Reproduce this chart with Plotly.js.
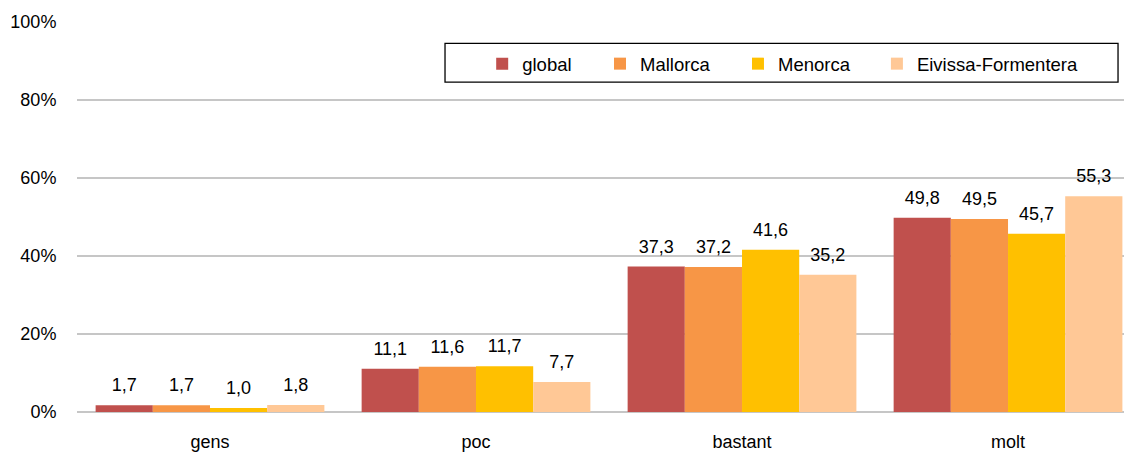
<!DOCTYPE html>
<html>
<head>
<meta charset="utf-8">
<script src="https://cdn.plot.ly/plotly-3.0.1.min.js"></script>
<style>html,body{margin:0;padding:0;overflow:hidden;background:#fff}</style>
</head>
<body>
<div id="chart" style="width:1124px;height:455px"></div>
<script>
const categories = ["gens", "poc", "bastant", "molt"];
const global = [1.7, 11.1, 37.3, 49.8];
const mallorca = [1.7, 11.6, 37.2, 49.5];
const menorca = [1.0, 11.7, 41.6, 45.7];
const eivissa = [1.8, 7.7, 35.2, 55.3];
const seriesNames = ["global", "Mallorca", "Menorca", "Eivissa-Formentera"];
const seriesColors = ["#C0504D", "#F79646", "#FFC000", "#FFC896"];
const seriesValues = [global, mallorca, menorca, eivissa];

const fmt = v => v.toFixed(1).replace(".", ",");
const FONT = "Liberation Sans, Arial, sans-serif";
const legendIds = ["legend", "legend2", "legend3", "legend4"];
const legendX = [0.387, 0.4995, 0.6313, 0.764];

// visible bars
const barTraces = seriesValues.map((vals, i) => ({
  type: "bar",
  name: seriesNames[i],
  x: categories,
  y: vals,
  legend: legendIds[i],
  marker: {color: seriesColors[i], line: {width: 0}},
  hoverinfo: "none"
}));

// transparent twin bars on an overlaid axis, carrying the value labels a little higher
const labelTraces = seriesValues.map((vals, i) => ({
  type: "bar",
  name: seriesNames[i] + " labels",
  x: categories,
  y: vals,
  yaxis: "y2",
  showlegend: false,
  marker: {color: "rgba(0,0,0,0)", line: {width: 0}},
  text: vals.map(fmt),
  textposition: "outside",
  cliponaxis: false,
  textfont: {family: FONT, size: 18, color: "#000"},
  hoverinfo: "none"
}));

const legendStyle = x => ({
  orientation: "h",
  x: x, xanchor: "left",
  y: 0.892, yanchor: "middle",
  borderwidth: 0,
  bgcolor: "rgba(0,0,0,0)",
  font: {family: FONT, size: 18.5, color: "#000"},
  itemwidth: 30
});

const layout = {
  width: 1124,
  height: 455,
  margin: {l: 77, r: 0, t: 22, b: 43},
  paper_bgcolor: "#fff",
  plot_bgcolor: "#fff",
  barmode: "group",
  bargap: 0.14,
  bargroupgap: 0,
  font: {family: FONT, size: 18, color: "#000"},
  showlegend: true,
  shapes: [{
    type: "rect", xref: "paper", yref: "paper",
    x0: 0.3515, x1: 0.9943, y0: 0.846, y1: 0.9454,
    line: {color: "#000", width: 1.3},
    fillcolor: "rgba(0,0,0,0)",
    layer: "above"
  }],
  xaxis: {
    range: [-0.5, 3.436],
    showgrid: false,
    showline: false,
    zeroline: false,
    ticks: "outside",
    ticklen: 13,
    tickcolor: "rgba(0,0,0,0)",
    tickfont: {family: FONT, size: 18, color: "#000"},
    fixedrange: true
  },
  yaxis: {
    range: [0, 100],
    tickvals: [0, 20, 40, 60, 80, 100],
    ticktext: ["0%", "20%", "40%", "60%", "80%", "100%"],
    showgrid: true,
    gridcolor: "#C6C6C6",
    gridwidth: 1.3,
    zeroline: true,
    zerolinecolor: "#C6C6C6",
    zerolinewidth: 1.3,
    showline: false,
    ticks: "outside",
    ticklen: 16,
    tickcolor: "rgba(0,0,0,0)",
    tickfont: {family: FONT, size: 18, color: "#000"},
    fixedrange: true
  },
  yaxis2: {
    overlaying: "y",
    range: [-1.8, 98.2],
    visible: false,
    showgrid: false,
    zeroline: false,
    fixedrange: true
  }
};
legendIds.forEach((id, i) => { layout[id] = legendStyle(legendX[i]); });

Plotly.newPlot("chart", barTraces.concat(labelTraces), layout, {displayModeBar: false, staticPlot: true});
</script>
</body>
</html>
